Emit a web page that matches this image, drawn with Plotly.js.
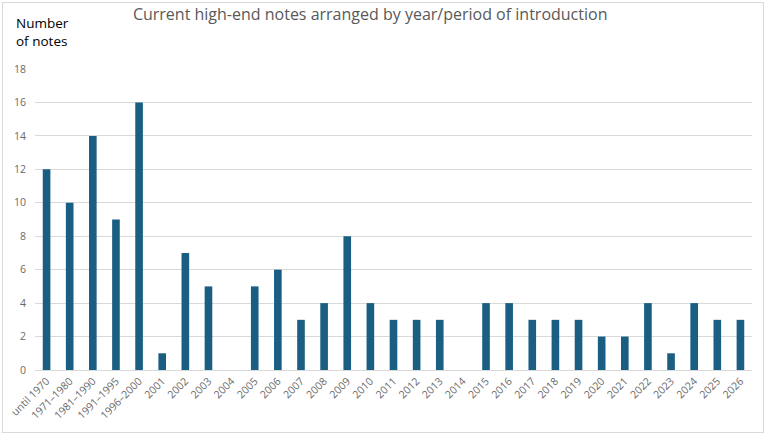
<!DOCTYPE html>
<html>
<head>
<meta charset="utf-8">
<script src="https://cdn.plot.ly/plotly-3.0.1.min.js"></script>
<style>
html,body{margin:0;padding:0;background:#fff;}
#wrap{position:relative;width:768px;height:436px;}
#chart{width:768px;height:436px;}
#frame{position:absolute;left:2px;top:2px;width:760px;height:429px;border:1px solid #d9d9d9;pointer-events:none;}
</style>
</head>
<body>
<div id="wrap"><div id="chart"></div><div id="frame"></div></div>
<script>
const categories = ["until 1970","1971–1980","1981–1990","1991–1995","1996–2000","2001","2002","2003","2004","2005","2006","2007","2008","2009","2010","2011","2012","2013","2014","2015","2016","2017","2018","2019","2020","2021","2022","2023","2024","2025","2026"];
const noteCounts = [12,10,14,9,16,1,7,5,0,5,6,3,4,8,4,3,3,3,0,4,4,3,3,3,2,2,4,1,4,3,3];
const yTicks = [0,2,4,6,8,10,12,14,16,18];

const trace = {
  type: 'bar',
  x: categories,
  y: noteCounts,
  marker: {color: '#1a5f82'},
  hoverinfo: 'x+y'
};

const layout = {
  width: 768, height: 436,
  margin: {l: 35, r: 16, t: 69, b: 66},
  paper_bgcolor: '#ffffff',
  plot_bgcolor: '#ffffff',
  bargap: 0.67,
  showlegend: false,
  font: {family: 'Open Sans, Liberation Sans, sans-serif', color: '#595959'},
  title: {
    text: 'Current high-end notes arranged by year/period of introduction',
    font: {size: 16, color: '#595959', family: 'Open Sans, Liberation Sans, sans-serif'},
    x: 0.482, xanchor: 'center', y: 0.966, yanchor: 'middle'
  },
  xaxis: {
    type: 'category',
    tickangle: -45,
    tickfont: {size: 10.5, color: '#6a6a6a'},
    showgrid: false,
    showline: true, linecolor: '#d9d9d9', linewidth: 1,
    ticks: '',
    automargin: false
  },
  yaxis: {
    range: [0, 18],
    tickvals: yTicks,
    ticktext: yTicks.map(String),
    tickfont: {size: 10.5, color: '#6a6a6a'},
    showgrid: true, gridcolor: '#d9d9d9', gridwidth: 1,
    zeroline: false,
    showline: false,
    ticks: '', ticklen: 0,
    ticklabelstandoff: 8,
    automargin: false
  },
  annotations: [{
    text: 'Number<br>of notes',
    xref: 'paper', yref: 'paper',
    x: -0.029, y: 1.123, xanchor: 'left', yanchor: 'middle', align: 'left',
    showarrow: false,
    font: {size: 13.5, color: '#000000', family: 'Open Sans, Liberation Sans, sans-serif'}
  }]
};

Plotly.newPlot('chart', [trace], layout, {displayModeBar: false, staticPlot: true});
</script>
</body>
</html>
